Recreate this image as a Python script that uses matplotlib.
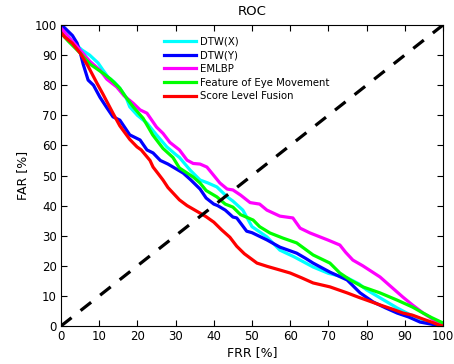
import numpy as np
import matplotlib
matplotlib.use('Agg')
import matplotlib.pyplot as plt

plt.rcParams['font.family'] = ['DejaVu Sans']

# ROC curves (FRR [%] -> FAR [%])
dtwx_x = [0, 1.5, 3, 5.5, 7.5, 9.7, 11, 12.3, 14, 15.4, 17, 18, 20, 22.5, 25, 27.7, 30, 31, 33.8, 36.4, 38.5, 40.8,
          43.5, 45, 47.6, 50, 53.9, 57.3, 61, 66, 70, 74.9, 78, 80, 84, 88, 91, 94.8, 97, 100]
dtwx_y = [99, 97, 94.5, 91.7, 90, 87.4, 85, 82.7, 81, 79, 76, 72.8, 70, 67.4, 63.5, 59.5, 57, 56, 51.8, 48.5, 47.5, 46.2,
          42.9, 41.5, 38.5, 33, 29.6, 25.2, 23, 19.6, 17.5, 16, 14, 12, 9, 6, 4, 2, 1, 0]

dtwy_x = [0, 1, 3, 4.2, 5, 5.8, 7.1, 8.5, 10.2, 12, 13.6, 15.4, 18, 20.7, 22.5, 24.1, 26, 28, 30.4, 32, 34, 36.4, 38, 40,
          41, 43, 45, 46, 48.6, 50, 53.9, 57.3, 61.7, 64, 66, 70.4, 74.9, 78.3, 81.7, 85, 88, 91, 94, 97, 100]
dtwy_y = [100, 99, 96.5, 94, 91, 87, 81.7, 80, 76, 72.5, 69.5, 68.4, 63.5, 61.8, 58.5, 57.5, 55, 53.8, 52, 50.8, 48.5, 45.5, 42.5, 40.5,
          40, 38.5, 36.2, 35.9, 31.5, 31, 28.6, 26.2, 24.2, 22.5, 20.9, 17.9, 15.3, 11, 8, 6, 4.3, 3, 1.3, 0.6, 0]

emlbp_x = [0, 2, 5, 7.5, 10.2, 12, 14.6, 16.5, 18.9, 20.7, 22.5, 25, 26.7, 28.5, 31, 33, 34.6, 36.4, 38.2, 40, 41.6, 43.5,
           45, 47, 49.5, 52, 53.9, 57.3, 60.7, 62.6, 65.2, 70, 73, 74.5, 76.4, 79, 83.5, 86, 89.5, 92, 94.8, 97, 99, 100]
emlbp_y = [99, 96, 91.7, 88, 85, 82, 79.4, 76.5, 74, 71.8, 70.7, 66.1, 64, 61, 58.5, 55.1, 54, 53.8, 52.8, 50, 47.5, 45.5,
           45.2, 43.5, 41, 40.5, 38.5, 36.5, 35.9, 32.5, 30.9, 28.5, 26.9, 24.5, 21.9, 20, 16.3, 13.5, 9.6, 7, 4.3, 2.5, 1, 0]

feat_x = [0, 2, 5, 7.6, 11, 13, 15.4, 17, 18.9, 21.5, 24, 26.7, 29.3, 31, 34.6, 36.4, 38, 40.8, 43, 45, 47, 50.3, 52,
          54.7, 58.1, 61.7, 66, 70.4, 73, 75.7, 79, 83.5, 88, 92, 94.8, 97, 100]
feat_y = [97.3, 94.5, 90.7, 87, 84, 82, 79, 76, 72.8, 69, 63.5, 59, 56, 52.5, 49.5, 47.5, 45, 42.9, 40.5, 39.5, 37, 35.2, 33,
          30.9, 29.2, 27.6, 23.6, 20.9, 17.6, 15.3, 13, 11, 8.6, 6.3, 4.3, 2.8, 1]

fusion_x = [0, 1, 2.9, 5, 7, 9.4, 11, 13.6, 15.4, 18, 19.9, 21, 23.3, 24.1, 25.5, 26.7, 28, 31, 33, 36.4, 38, 40, 42, 44.2,
            46, 48, 51.3, 54, 57.3, 60, 63, 66, 70.4, 74.9, 78, 80, 83.5, 87, 89.5, 92, 95, 97, 99, 100]
fusion_y = [97.5, 96, 94, 90.7, 86.5, 80.7, 77, 70.7, 66.5, 62, 59.5, 58.5, 55, 52.8, 50.5, 48.5, 46, 41.9, 40, 37.5, 36.3,
            34.5, 32, 29.5, 26.5, 24, 20.9, 19.8, 18.6, 17.6, 16, 14.3, 13, 11, 9.5, 8.6, 7, 5.5, 4.3, 3.6, 2.2, 1.3, 0.3, 0]

names = ['DTW(X)', 'DTW(Y)', 'EMLBP', 'Feature of Eye Movement', 'Score Level Fusion']
colors = ['#00ffff', '#0000ff', '#ff00ff', '#00ff00', '#ff0000']
xs = [dtwx_x, dtwy_x, emlbp_x, feat_x, fusion_x]
ys = [dtwx_y, dtwy_y, emlbp_y, feat_y, fusion_y]

fig = plt.figure(figsize=(4.54, 3.64), dpi=100)
ax = fig.add_axes([61/454, 1-326/364, (443-61)/454, (326-25)/364])

for i in range(len(names)):
    ax.plot(xs[i], ys[i], color=colors[i], lw=2.3, label=names[i])

ax.plot([0, 100], [0, 100], color='black', lw=2.3, dashes=(4.2, 3.6))

ax.set_xlim(0, 100)
ax.set_ylim(0, 100)
ax.set_xticks(np.arange(0, 101, 10))
ax.set_yticks(np.arange(0, 101, 10))
ax.tick_params(direction='in', top=True, right=True, length=4, width=0.8, labelsize=8.5, pad=3)
for s in ax.spines.values():
    s.set_linewidth(0.8)

ax.set_xlabel('FRR [%]', fontsize=9, labelpad=2)
ax.set_ylabel('FAR [%]', fontsize=9, labelpad=4)
ax.set_title('ROC', fontsize=9.5, pad=7)

ax.legend(loc='upper left', bbox_to_anchor=(0.25, 0.985), fontsize=7.3, frameon=False,
          handlelength=3.2, handletextpad=0.35, labelspacing=0.36, borderpad=0.2)

plt.savefig('out.png', dpi=100)
plt.close()
